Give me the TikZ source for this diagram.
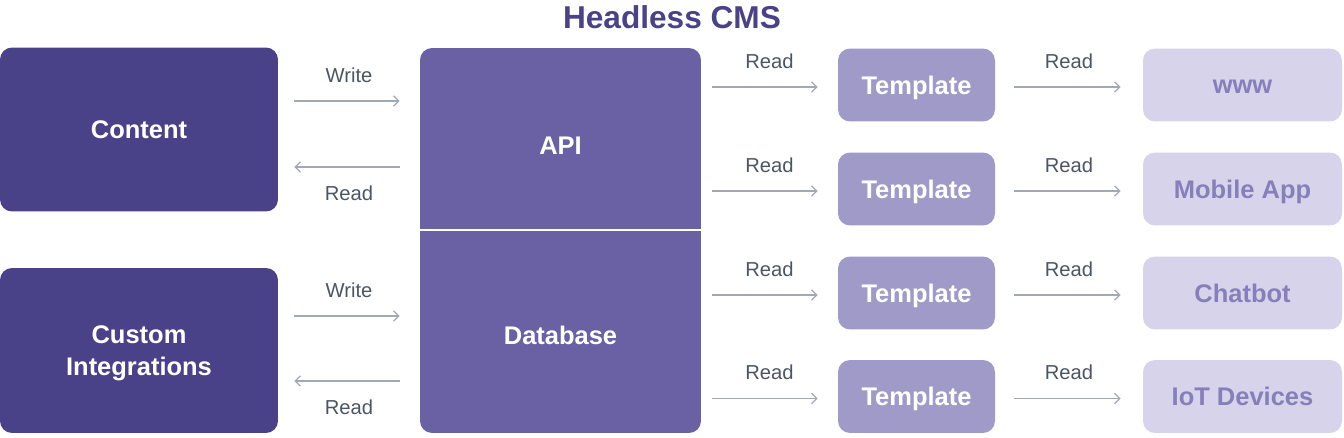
\documentclass[tikz,border=0pt]{standalone}
\usepackage{fontspec}
\setmainfont{Liberation Sans}
\usetikzlibrary{arrows.meta,calc}
\definecolor{cmsdark}{HTML}{4A4288}
\definecolor{cmsmid}{HTML}{6A61A4}
\definecolor{cmstpl}{HTML}{A09AC9}
\definecolor{cmslight}{HTML}{D6D3EB}
\definecolor{cmslighttext}{HTML}{877FBA}
\definecolor{flowgray}{HTML}{A3A8B5}
\definecolor{labelgray}{HTML}{4B5563}
\tikzset{
  box/.style={rounded corners=0.24cm, inner sep=0pt, align=center, text depth=0pt,
    font=\fontsize{14.5}{18}\selectfont\bfseries},
  srcbox/.style={box, fill=cmsdark, text=white, minimum width=5.56cm, minimum height=3.28cm},
  tplbox/.style={box, fill=cmstpl, text=white, minimum width=3.14cm, minimum height=1.46cm},
  outbox/.style={box, fill=cmslight, text=cmslighttext, minimum width=3.98cm, minimum height=1.46cm},
  flow/.style={draw=flowgray, line width=0.7pt, -{Straight Barb[length=3pt,width=6pt]}},
  flowlabel/.style={font=\fontsize{11.5}{13}\selectfont, text=labelgray}
}
\begin{document}
\begin{tikzpicture}[x=0.02cm, y=-0.02cm]
			%%%%% START %%%%%
			\useasboundingbox (0, 0) rectangle (1344, 438);
			
			\node[font=\fontsize{18}{21}\selectfont\bfseries, text=cmsdark] (title) at (672, 17) {Headless CMS};
			
			% sources
			\node[srcbox] (content) at (139, 129.5) {Content};
			\node[srcbox, minimum height=3.30cm] (custom) at (139, 350.5) {Custom\\Integrations};
			
			% cms core
			\node[box, fill=cmsmid, minimum width=5.62cm, minimum height=7.70cm] (cms) at (560.5, 240.5) {};
			\node[font=\fontsize{14.5}{18}\selectfont\bfseries, text=white] (api) at (560.5, 146) {API};
			\node[font=\fontsize{14.5}{18}\selectfont\bfseries, text=white] (db) at (560.5, 335) {Database};
			\draw[white, line width=1pt] (cms.west |- 0, 230) -- (cms.east |- 0, 230);
			
			% templates
			\node[tplbox] (tplA) at (916.5, 85) {Template};
			\node[tplbox] (tplB) at (916.5, 189) {Template};
			\node[tplbox] (tplC) at (916.5, 293) {Template};
			\node[tplbox] (tplD) at (916.5, 396.5) {Template};
			
			% channels
			\node[outbox] (www) at (1242.5, 85) {\vphantom{I}www};
			\node[outbox] (mobile) at (1242.5, 189) {Mobile App};
			\node[outbox] (chat) at (1242.5, 293) {Chatbot};
			\node[outbox] (iot) at (1242.5, 396.5) {IoT Devices};
			
			% write / read with the core
			\draw[flow, shorten <=0.32cm, shorten >=0.40cm] ([yshift=0.57cm]content.east) -- ([yshift=0.57cm]content.east -| cms.west)
				node[flowlabel, midway, above=0.24cm] {Write};
			\draw[flow, shorten <=0.40cm, shorten >=0.32cm] ([yshift=-0.75cm]content.east -| cms.west) -- ([yshift=-0.75cm]content.east)
				node[flowlabel, midway, below=0.24cm] {Read};
			\draw[flow, shorten <=0.32cm, shorten >=0.40cm] ([yshift=0.69cm]custom.east) -- ([yshift=0.69cm]custom.east -| cms.west)
				node[flowlabel, midway, above=0.24cm] {Write};
			\draw[flow, shorten <=0.40cm, shorten >=0.32cm] ([yshift=-0.61cm]custom.east -| cms.west) -- ([yshift=-0.61cm]custom.east)
				node[flowlabel, midway, below=0.24cm] {Read};
			
			% read out to templates and channels
			\foreach \tpl/\out in {tplA/www, tplB/mobile, tplC/chat, tplD/iot} {
				\draw[flow, shorten <=0.22cm, shorten >=0.40cm] ([yshift=-0.04cm]cms.east |- \tpl.west) -- ([yshift=-0.04cm]\tpl.west)
					node[flowlabel, midway, above=0.24cm] {Read};
				\draw[flow, shorten <=0.38cm, shorten >=0.44cm] ([yshift=-0.04cm]\tpl.east) -- ([yshift=-0.04cm]\out.west)
					node[flowlabel, midway, above=0.24cm] {Read};
			}
			%%%%% END %%%%%
\end{tikzpicture}
\end{document}
